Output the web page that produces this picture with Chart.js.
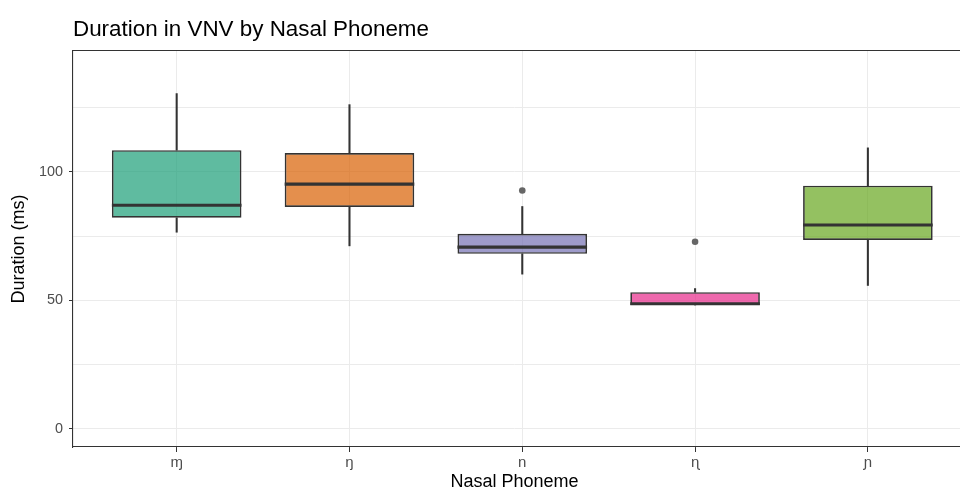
<!DOCTYPE html>
<html>
<head>
<meta charset="utf-8">
<script src="https://cdn.jsdelivr.net/npm/chart.js@4.4.0/dist/chart.umd.min.js"></script>
<style>
  html, body { margin: 0; padding: 0; background: #fff; }
  #wrap { width: 960px; height: 489px; }
</style>
</head>
<body>
<div id="wrap"><canvas id="c" width="960" height="489"></canvas></div>
<script>
const categories = ['ɱ', 'ŋ', 'n', 'ɳ', 'ɲ'];
const whiskerLow = [76.5, 71.2, 60.2, 48.2, 55.8];
const q1 = [82.1, 86.3, 68.1, 48.2, 73.5];
const median = [87.0, 95.2, 70.7, 48.7, 79.3];
const q3 = [108.4, 107.3, 75.9, 53.2, 94.6];
const whiskerHigh = [130.4, 126.1, 86.5, 54.6, 109.3];
const outliers = [[], [], [92.7], [72.8], []];
const yTicks = [0, 50, 100];
const fills = ['rgba(27,158,119,0.7)', 'rgba(217,95,2,0.7)', 'rgba(117,112,179,0.7)', 'rgba(231,41,138,0.7)', 'rgba(102,166,30,0.7)'];

const DARK = '#333333';
const FONT = 'Liberation Sans, Arial, sans-serif';
const BW = 1.1;
const xs = categories.map((_, i) => i + 1);

const boxData = xs.map((x, i) => ({x, y: [q1[i], q3[i]]}));
const medData = xs.map((x, i) => ({x, y: [median[i] - 0.6, median[i] + 0.6]}));
const wLowData = xs.map((x, i) => ({x, y: [whiskerLow[i], q1[i]]}));
const wHighData = xs.map((x, i) => ({x, y: [q3[i], whiskerHigh[i]]}));
const outData = [];
outliers.forEach((arr, i) => arr.forEach(v => outData.push({x: i + 1, y: v})));

const align = (p, w) => Math.round(p - w / 2) + w / 2;

const frame = {
  id: 'frame',
  beforeDatasetsDraw(chart) {
    // panel is cut off at the right edge: extend horizontal gridlines to the canvas edge
    const {ctx, chartArea: a} = chart;
    const y = chart.scales.y;
    ctx.save();
    ctx.strokeStyle = '#EBEBEB';
    ctx.lineWidth = 1;
    y.ticks.forEach(t => {
      const py = align(y.getPixelForValue(t.value), 1);
      ctx.beginPath();
      ctx.moveTo(a.right, py);
      ctx.lineTo(chart.width, py);
      ctx.stroke();
    });
    ctx.restore();
  },
  afterDraw(chart) {
    const {ctx, chartArea: a} = chart;
    ctx.save();
    ctx.strokeStyle = DARK;
    ctx.lineWidth = BW;
    ctx.lineCap = 'butt';
    const yt = align(a.top, BW);
    const yb = align(a.bottom, BW);
    ctx.beginPath();
    ctx.moveTo(a.left, yt);
    ctx.lineTo(chart.width, yt);
    ctx.moveTo(a.right - 2, yb);
    ctx.lineTo(chart.width, yb);
    ctx.stroke();
    ctx.restore();
  }
};

new Chart(document.getElementById('c'), {
  type: 'bar',
  data: {
    datasets: [
      {label: 'median', data: medData, backgroundColor: DARK, borderWidth: 0,
       grouped: false, order: 0, categoryPercentage: 1, barPercentage: 0.75},
      {label: 'box', data: boxData, backgroundColor: fills, borderColor: DARK, borderWidth: 1.7,
       borderSkipped: false, grouped: false, order: 1, categoryPercentage: 1, barPercentage: 0.75},
      {label: 'wlow', data: wLowData, backgroundColor: DARK, borderWidth: 0,
       grouped: false, order: 2, barThickness: 1.4},
      {label: 'whigh', data: wHighData, backgroundColor: DARK, borderWidth: 0,
       grouped: false, order: 2, barThickness: 1.4},
      {type: 'scatter', label: 'outliers', data: outData, backgroundColor: '#666666',
       borderWidth: 0, pointRadius: 3.3, order: 0}
    ]
  },
  options: {
    responsive: false,
    animation: false,
    events: [],
    layout: {padding: {left: 0, right: 0, top: 8, bottom: 0}},
    plugins: {
      legend: {display: false},
      tooltip: {enabled: false},
      title: {
        display: true, text: 'Duration in VNV by Nasal Phoneme', align: 'start', fullSize: false,
        color: '#000', font: {family: FONT, size: 22.4, weight: 'normal'},
        padding: {top: 8, bottom: 8}
      }
    },
    scales: {
      x: {
        type: 'linear', min: 0.4, max: 5.51, offset: false,
        afterBuildTicks(s) { s.ticks = xs.map(v => ({value: v})); },
        ticks: {
          callback: (v) => categories[v - 1] ?? '',
          color: '#4D4D4D', font: {family: FONT, size: 15},
          padding: 2, maxRotation: 0, autoSkip: false
        },
        grid: {color: '#EBEBEB', lineWidth: 1, tickColor: DARK, tickLength: 5, drawTicks: true, offset: false},
        border: {color: DARK, width: BW},
        title: {display: true, text: 'Nasal Phoneme', color: '#000',
                font: {family: FONT, size: 18}, padding: {top: 0, bottom: -4}},
        afterFit(s) { s.height = 42; s.paddingLeft = 0; s.paddingRight = 0; }
      },
      y: {
        type: 'linear', min: -7, max: 147,
        afterBuildTicks(s) { s.ticks = [0, 25, 50, 75, 100, 125].map(v => ({value: v})); },
        ticks: {
          callback: (v) => yTicks.includes(v) ? String(v) : '',
          color: '#4D4D4D', font: {family: FONT, size: 14.4}, padding: 6
        },
        grid: {color: '#EBEBEB', lineWidth: 1, drawTicks: true, tickLength: 4,
               tickColor: (c) => yTicks.includes(c.tick && c.tick.value) ? DARK : 'rgba(0,0,0,0)'},
        border: {color: DARK, width: BW},
        title: {display: true, text: 'Duration (ms)', color: '#000',
                font: {family: FONT, size: 18}, padding: {top: 8, bottom: 0}},
        afterFit(s) { s.width = 73; s.paddingTop = 0; s.paddingBottom = 0; }
      }
    }
  },
  plugins: [frame]
});
</script>
</body>
</html>
